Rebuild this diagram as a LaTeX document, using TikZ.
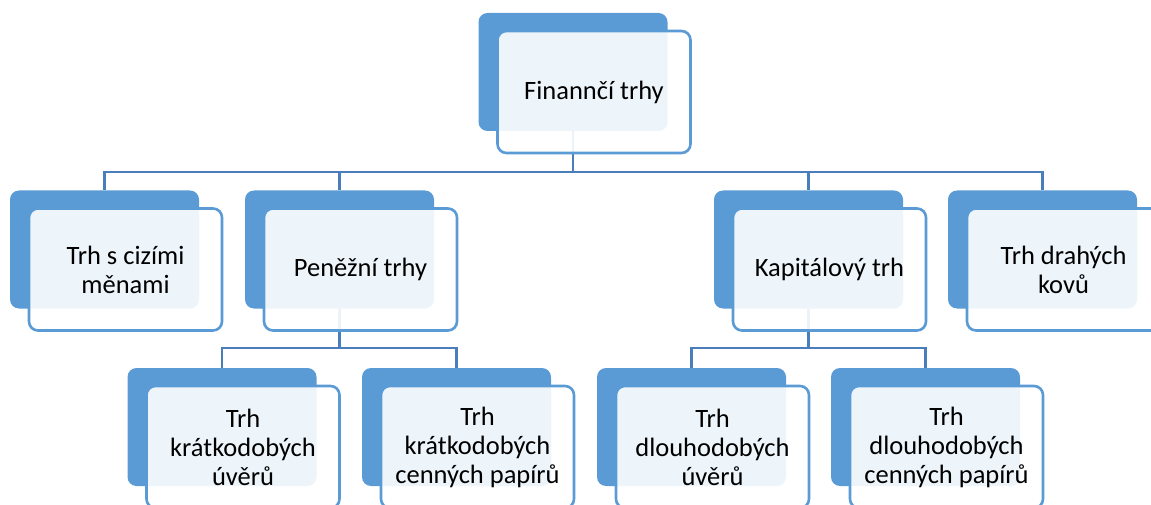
\documentclass[tikz,border=0pt]{standalone}
\usepackage{fontspec}
\setmainfont{Carlito}
\usetikzlibrary{backgrounds}
\definecolor{boxblue}{RGB}{91,155,213}
\definecolor{lineblue}{RGB}{74,126,187}
\tikzset{
	backbox/.style={fill=boxblue, rounded corners=9pt, minimum width=189pt, minimum height=118pt, inner sep=0pt},
	frontbox/.style={draw=boxblue, line width=2.6pt, fill=white, fill opacity=0.9, text opacity=1, rounded corners=9pt,
		minimum width=193pt, minimum height=122pt, inner sep=0pt, align=center,
		font=\fontsize{26.5}{29}\selectfont},
	conn/.style={draw=lineblue, line width=2.7pt}
}
\begin{document}
\begin{tikzpicture}[x=1pt,y=-1pt]
			%%%%% START %%%%%
			
			\useasboundingbox (0,0) rectangle (1151,505);
			\clip (0,0) rectangle (1151,505);
			
			% back boxes
			\node[backbox] (finB) at (573, 72) {};
			\node[backbox] (ciziB) at (104.5, 249.5) {};
			\node[backbox] (penB) at (339.5, 249.5) {};
			\node[backbox] (kapB) at (808.5, 249.5) {};
			\node[backbox] (draB) at (1042.5, 249.5) {};
			\node[backbox] (kuB) at (222, 427) {};
			\node[backbox] (kpB) at (456.5, 427) {};
			\node[backbox] (duB) at (691.5, 427) {};
			\node[backbox] (dpB) at (925.5, 427) {};
			
			% front boxes
			\node[frontbox] (fin) at ([shift={(21,20)}]finB) {Finannčí trhy};
			\node[frontbox] (cizi) at ([shift={(21,20)}]ciziB) {Trh s cizími\\měnami};
			\node[frontbox] (pen) at ([shift={(21,20)}]penB) {Peněžní trhy};
			\node[frontbox] (kap) at ([shift={(21,20)}]kapB) {Kapitálový trh};
			\node[frontbox] (dra) at ([shift={(21,20)}]draB) {Trh drahých\\kovů};
			\node[frontbox] (ku) at ([shift={(21,20)}]kuB) {Trh\\krátkodobých\\úvěrů};
			\node[frontbox] (kp) at ([shift={(21,20)}]kpB) {Trh\\krátkodobých\\cenných papírů};
			\node[frontbox] (du) at ([shift={(21,20)}]duB) {Trh\\dlouhodobých\\úvěrů};
			\node[frontbox] (dp) at ([shift={(21,20)}]dpB) {Trh\\dlouhodobých\\cenných papírů};
			
			\coordinate (busA) at (0, 172);
			\coordinate (busB) at (0, 348);
			
			% connectors
			\begin{scope}[on background layer]
				\foreach \n in {ciziB,penB,kapB,draB}
					\draw[conn] (finB.south) -- (finB.south |- busA) -| (\n.north);
				\foreach \n in {kuB,kpB}
					\draw[conn] (penB.south) -- (penB.south |- busB) -| (\n.north);
				\foreach \n in {duB,dpB}
					\draw[conn] (kapB.south) -- (kapB.south |- busB) -| (\n.north);
			\end{scope}
			
			%%%%% END %%%%%
\end{tikzpicture}
\end{document}
